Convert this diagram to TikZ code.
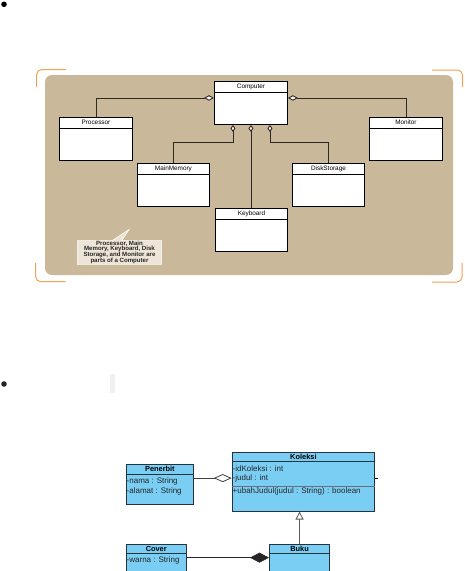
\documentclass[tikz,border=0pt]{standalone}
\usepackage{fontspec}
\setmainfont{Liberation Sans}
\usetikzlibrary{arrows.meta,calc}
\definecolor{panel}{RGB}{202,184,155}
\definecolor{bracket}{RGB}{242,162,84}
\definecolor{notefill}{RGB}{237,229,215}
\definecolor{classblue}{RGB}{122,206,244}
\definecolor{classline}{RGB}{40,50,60}
\definecolor{linkdark}{RGB}{45,40,35}

\begin{document}
\begin{tikzpicture}[x=1pt,y=-1pt,
  box/.style={draw=black,fill=white,line width=0.9pt,anchor=north west,inner sep=0pt},
  ttl/.style={font=\fontsize{6.4}{6.4}\selectfont,inner sep=0pt},
  link/.style={draw=linkdark,line width=0.9pt},
  hollow/.style={{Diamond[open,fill=white,length=10pt,width=5.5pt]}-},
  bluebox/.style={draw=classline,fill=classblue,line width=0.8pt,anchor=north west,inner sep=0pt},
  bttl/.style={font=\bfseries\fontsize{7.4}{7.4}\selectfont,inner sep=0pt},
  attr/.style={font=\fontsize{8}{8}\selectfont,inner sep=0pt,anchor=west,text=black!85}]
\useasboundingbox (0,0) rectangle (464,571);

% bullets
\fill[black] (4,4.3) circle (2.8);
\fill[black!85] (4,384) circle (2.8);
\fill[black!6] (110,374) rectangle (115,393);

% panel and corner brackets
\fill[panel,rounded corners=7pt] (45,75) rectangle (453,275);
\draw[bracket,line width=1pt,rounded corners=5pt] (66,69.5) -- (36.7,69.5) -- (36.7,87);
\draw[bracket,line width=1pt,rounded corners=5pt] (432,70) -- (462.5,70) -- (462.5,87);
\draw[bracket,line width=1pt,rounded corners=5pt] (35.7,263) -- (35.7,281.7) -- (65.7,281.7);
\draw[bracket,line width=1pt,rounded corners=5pt] (462,263) -- (462,282) -- (432,282);

% classes of the computer
\node[box,minimum width=73pt,minimum height=43pt] (comp) at (214,81) {};
\node[box,minimum width=73pt,minimum height=43pt] (proc) at (59,117) {};
\node[box,minimum width=73pt,minimum height=43pt] (mon) at (369,117) {};
\node[box,minimum width=72pt,minimum height=43pt] (mem) at (137,163) {};
\node[box,minimum width=72pt,minimum height=43pt] (disk) at (292,163) {};
\node[box,minimum width=72pt,minimum height=43pt] (key) at (215,208) {};
\foreach \c/\t in {comp/Computer,proc/Processor,mon/Monitor,mem/MainMemory,disk/DiskStorage,key/Keyboard}{
  \draw[line width=0.9pt] ([yshift=-11pt]\c.north west) -- ([yshift=-11pt]\c.north east);
  \node[ttl] (\c T) at ([yshift=-5.6pt]\c.north) {\t};
}

% aggregations
\draw[link,hollow] ([yshift=5pt]comp.west) -| (proc.north);
\draw[link,hollow] ([yshift=5pt]comp.east) -| (mon.north);
\draw[link,{Diamond[open,fill=white,length=7pt,width=5pt]}-] ([xshift=-18pt]comp.south) -- ++(0,18) -| (mem.north);
\draw[link,{Diamond[open,fill=white,length=7pt,width=5pt]}-] (comp.south) -- (comp.south |- key.north);
\draw[link,{Diamond[open,fill=white,length=7pt,width=5pt]}-] ([xshift=19pt]comp.south) -- ++(0,17.5) -| (disk.north);

% note
\fill[notefill,draw=white,line width=0.5pt] (77.3,240.7) -- (112,240.7) -- (129.3,229.3) -- (121.7,240.7)
  -- (161.7,240.7) -- (161.7,264.3) -- (77.3,264.3) -- cycle;
\node[font=\bfseries\fontsize{6.1}{5.8}\selectfont,align=center,inner sep=0pt,text=black!85] (note)
  at (119.5,252.3) {Processor, Main\\Memory, Keyboard, Disk\\Storage, and Monitor are\\parts of a Computer};

% library classes
\node[bluebox,minimum width=67.6pt,minimum height=39.7pt] (pen) at (125.7,464.3) {};
\draw[classline,line width=0.8pt] ([yshift=-9.7pt]pen.north west) -- ([yshift=-9.7pt]pen.north east);
\node[bttl] (penT) at ([yshift=-4.9pt]pen.north) {Penerbit};
\node[attr] (pen1) at ([xshift=0.8pt,yshift=-17.4pt]pen.north west) {-nama : String};
\node[attr] (pen2) at ([xshift=0.8pt,yshift=-27.4pt]pen.north west) {-alamat : String};

\node[bluebox,minimum width=142.6pt,minimum height=59pt] (kol) at (231.7,451.7) {};
\draw[classline,line width=0.8pt] ([yshift=-10pt]kol.north west) -- ([yshift=-10pt]kol.north east);
\draw[classline!70,line width=0.6pt] ([yshift=-35pt]kol.north west) -- ([yshift=-35pt]kol.north east);
\node[bttl] (kolT) at ([yshift=-5pt]kol.north) {Koleksi};
\node[attr] (kol1) at ([xshift=0.8pt,yshift=-16.6pt]kol.north west) {-idKoleksi : int};
\node[attr] (kol2) at ([xshift=0.8pt,yshift=-26.6pt]kol.north west) {-judul : int};
\node[attr] (kol3) at ([xshift=0.8pt,yshift=-40pt]kol.north west) {+ubahJudul(judul : String) : boolean};

\node[bluebox,minimum width=60.3pt,minimum height=26.5pt] (cover) at (125.7,544) {};
\draw[classline,line width=0.8pt] ([yshift=-9.3pt]cover.north west) -- ([yshift=-9.3pt]cover.north east);
\node[bttl] (coverT) at ([yshift=-4.7pt]cover.north) {Cover};
\node[attr] (cover1) at ([xshift=0.8pt,yshift=-16pt]cover.north west) {-warna : String};

\node[bluebox,minimum width=60.3pt,minimum height=26.5pt] (buku) at (269,544) {};
\draw[classline,line width=0.8pt] ([yshift=-9.3pt]buku.north west) -- ([yshift=-9.3pt]buku.north east);
\node[bttl] (bukuT) at ([yshift=-4.7pt]buku.north) {Buku};

% relations
\coordinate (kolin) at ([yshift=3.5pt]kol.west);
\draw[black!75,line width=0.8pt,{Diamond[open,fill=white,length=18pt,width=8pt]}-] (kolin) -- (kolin -| pen.east);
\draw[black!85,line width=0.8pt,{Diamond[length=19pt,width=10pt]}-] (buku.west) -- (cover.east);
\draw[black!65,line width=0.8pt,-{Triangle[open,fill=white,length=8pt,width=8pt]}] (buku.north) -- (buku.north |- kol.south);
\draw[black,line width=1pt] ([yshift=3.5pt]kol.east) -- ++(2.5,0);
\end{tikzpicture}
\end{document}
